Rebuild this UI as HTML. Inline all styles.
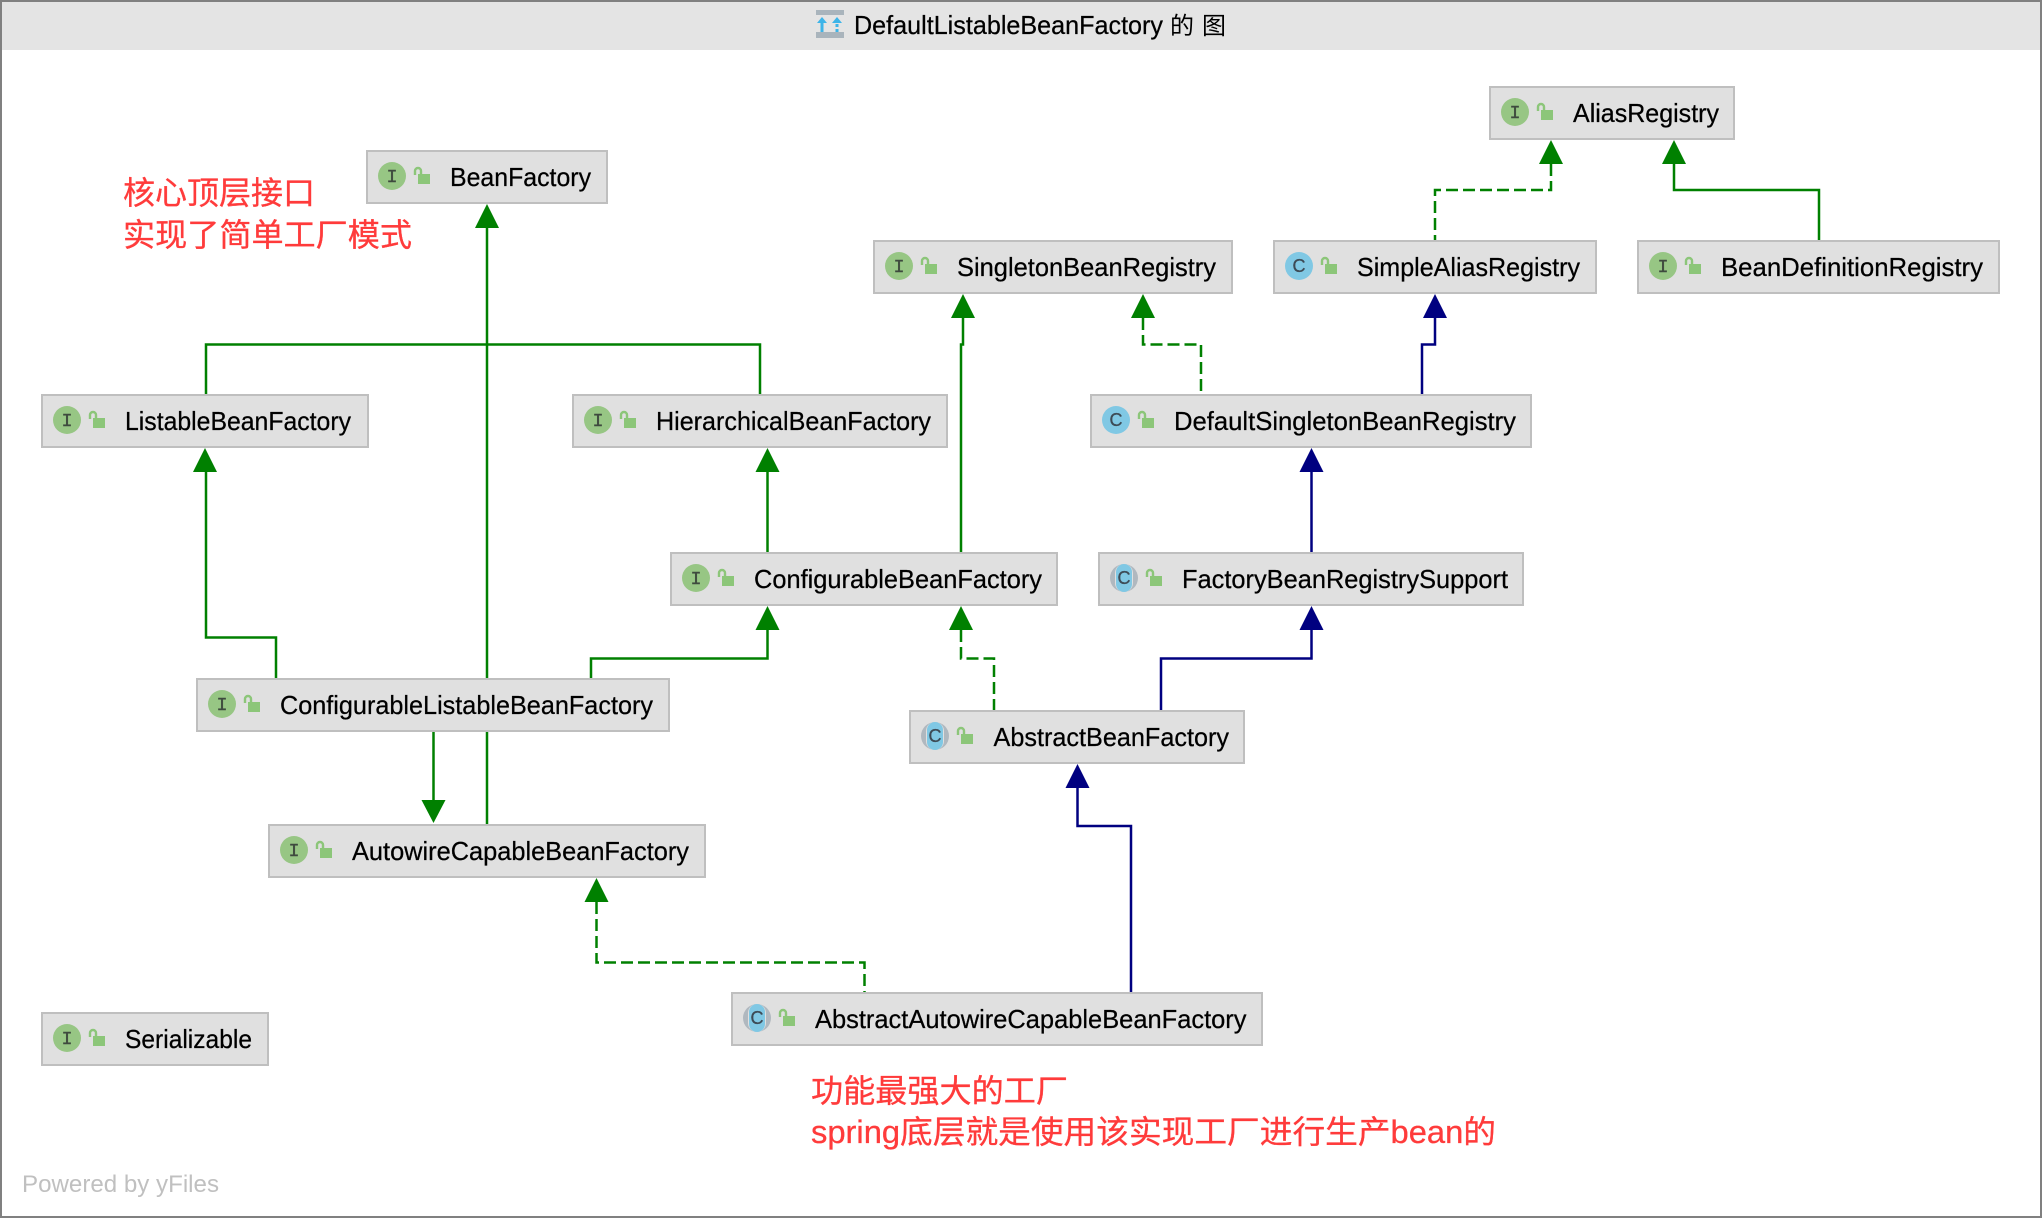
<!DOCTYPE html>
<html lang="zh">
<head>
<meta charset="utf-8">
<title>DefaultListableBeanFactory 的 图</title>
<style>
html,body{margin:0;padding:0;background:#fff;width:2042px;height:1218px;overflow:hidden}
svg{display:block}
.n{fill:#e0e0e0;stroke:#bfbfbf;stroke-width:2}
.t{font-family:"Liberation Sans",sans-serif;font-size:26px;fill:#000;stroke:#000;stroke-width:.25}
.r{font-family:"Liberation Sans","Noto Sans CJK SC",sans-serif;font-size:32px;fill:#ff3b3b;stroke:#ff3b3b;stroke-width:.3}
.e{fill:none;stroke-width:2.5}
.g{stroke:#008000}
.b{stroke:#000080}
.d{stroke-dasharray:12 5}
.ag{fill:#008000}
.ab{fill:#000080}
.ii{font-family:"Liberation Mono",monospace;font-size:18px;fill:#3e4a3e;stroke:#3e4a3e;stroke-width:.4;text-anchor:middle}
.ci{font-family:"Liberation Sans",sans-serif;font-size:18px;fill:#3d4a55;stroke:#3d4a55;stroke-width:.3;text-anchor:middle}
</style>
</head>
<body>
<svg width="2042" height="1218" viewBox="0 0 2042 1218" xmlns="http://www.w3.org/2000/svg">
<defs>
  <g id="lk">
    <rect x="52" y="24" width="12" height="10" fill="#8cc679"/>
    <path d="M49 25V21a3 3 0 0 1 6 0v3" fill="none" stroke="#8cc679" stroke-width="2.4"/>
  </g>
  <g id="ic"><circle cx="26" cy="26" r="14" fill="#97c684"/></g>
  <g id="cc"><circle cx="26" cy="26" r="14" fill="#80c8e4"/></g>
  <g id="ac">
    <circle cx="26" cy="26" r="14" fill="#b0b8bf"/>
    <rect x="17" y="12" width="18" height="28" rx="9" fill="#e0e0e0"/>
    <rect x="18" y="12" width="16" height="28" rx="8" fill="#80c8e4"/>
  </g>
</defs>

<rect x="0" y="0" width="2042" height="1218" fill="#fff"/>
<rect x="0" y="0" width="2042" height="50" fill="#e4e4e4"/>
<rect x="1" y="1" width="2040" height="1216" fill="none" stroke="#808080" stroke-width="2"/>

<!-- title -->
<rect x="816" y="10" width="28" height="5" fill="#a9b4bc"/>
<rect x="816" y="32" width="28" height="6" fill="#a9b4bc"/>
<path d="M822 32V21" stroke="#3db4e8" stroke-width="3" fill="none"/>
<path d="M817 23L822 17L827 23Z" fill="#3db4e8"/>
<path d="M837 32V21" stroke="#3db4e8" stroke-width="3" stroke-dasharray="3 2" fill="none"/>
<path d="M832 23L837 17L842 23Z" fill="#3db4e8"/>
<text class="t" x="854" y="34" font-size="24" textLength="309" lengthAdjust="spacingAndGlyphs">DefaultListableBeanFactory</text>
<text x="1170" y="34" style="font-family:'Liberation Sans','Noto Sans CJK SC',sans-serif;font-size:24px;fill:#000">的</text>
<text x="1202" y="34" style="font-family:'Liberation Sans','Noto Sans CJK SC',sans-serif;font-size:24px;fill:#000">图</text>

<!-- edges -->
<path class="e g" d="M487 824V228"/>
<path class="e g" d="M206 394V344.5H760V394"/>
<path class="e g" d="M963 318V344.5H961V552"/>
<path class="e g d" d="M1143 318V344.5H1201V394"/>
<path class="e b" d="M1435 318V344.5H1422V394"/>
<path class="e g d" d="M1551 164V190H1435V240"/>
<path class="e g" d="M1674 164V190H1819V240"/>
<path class="e g" d="M206 472V637.5H276V678"/>
<path class="e g" d="M591 678V658.5H767.5V630"/>
<path class="e g" d="M767.5 552V472"/>
<path class="e g d" d="M961 630V658.5H994V710"/>
<path class="e b" d="M1311.5 630V658.5H1161V710"/>
<path class="e b" d="M1311.5 552V472"/>
<path class="e b" d="M1077.5 788V826H1131V992"/>
<path class="e g" d="M433.5 732V800"/>
<path class="e g d" d="M596.5 902V962.5H864.5V992"/>

<!-- arrowheads -->
<polygon class="ag" points="487,204 475,228 499,228"/>
<polygon class="ag" points="205,448 193,472 217,472"/>
<polygon class="ag" points="767.5,448 755.5,472 779.5,472"/>
<polygon class="ag" points="963,294 951,318 975,318"/>
<polygon class="ag" points="1143,294 1131,318 1155,318"/>
<polygon class="ab" points="1435,294 1423,318 1447,318"/>
<polygon class="ag" points="1551,140 1539,164 1563,164"/>
<polygon class="ag" points="1674,140 1662,164 1686,164"/>
<polygon class="ag" points="767.5,606 755.5,630 779.5,630"/>
<polygon class="ag" points="961,606 949,630 973,630"/>
<polygon class="ab" points="1311.5,606 1299.5,630 1323.5,630"/>
<polygon class="ab" points="1311.5,448 1299.5,472 1323.5,472"/>
<polygon class="ab" points="1077.5,764 1065.5,788 1089.5,788"/>
<polygon class="ag" points="433.5,823 421.5,800 445.5,800"/>
<polygon class="ag" points="596.5,878 584.5,902 608.5,902"/>

<!-- nodes -->
<g transform="translate(366,150)"><rect class="n" x="1" y="1" width="240" height="52"/><use href="#ic"/><text class="ii" x="26" y="32">I</text><use href="#lk"/></g>
<text class="t" x="450" y="186" textLength="141" lengthAdjust="spacingAndGlyphs">BeanFactory</text>

<g transform="translate(41,394)"><rect class="n" x="1" y="1" width="326" height="52"/><use href="#ic"/><text class="ii" x="26" y="32">I</text><use href="#lk"/></g>
<text class="t" x="125" y="430" textLength="226" lengthAdjust="spacingAndGlyphs">ListableBeanFactory</text>

<g transform="translate(572,394)"><rect class="n" x="1" y="1" width="374" height="52"/><use href="#ic"/><text class="ii" x="26" y="32">I</text><use href="#lk"/></g>
<text class="t" x="656" y="430" textLength="275" lengthAdjust="spacingAndGlyphs">HierarchicalBeanFactory</text>

<g transform="translate(873,240)"><rect class="n" x="1" y="1" width="358" height="52"/><use href="#ic"/><text class="ii" x="26" y="32">I</text><use href="#lk"/></g>
<text class="t" x="957" y="276" textLength="259" lengthAdjust="spacingAndGlyphs">SingletonBeanRegistry</text>

<g transform="translate(1273,240)"><rect class="n" x="1" y="1" width="322" height="52"/><use href="#cc"/><text class="ci" x="26" y="32">C</text><use href="#lk"/></g>
<text class="t" x="1357" y="276" textLength="223" lengthAdjust="spacingAndGlyphs">SimpleAliasRegistry</text>

<g transform="translate(1637,240)"><rect class="n" x="1" y="1" width="361" height="52"/><use href="#ic"/><text class="ii" x="26" y="32">I</text><use href="#lk"/></g>
<text class="t" x="1721" y="276" textLength="262" lengthAdjust="spacingAndGlyphs">BeanDefinitionRegistry</text>

<g transform="translate(1489,86)"><rect class="n" x="1" y="1" width="244" height="52"/><use href="#ic"/><text class="ii" x="26" y="32">I</text><use href="#lk"/></g>
<text class="t" x="1573" y="122" textLength="146" lengthAdjust="spacingAndGlyphs">AliasRegistry</text>

<g transform="translate(1090,394)"><rect class="n" x="1" y="1" width="440" height="52"/><use href="#cc"/><text class="ci" x="26" y="32">C</text><use href="#lk"/></g>
<text class="t" x="1174" y="430" textLength="342" lengthAdjust="spacingAndGlyphs">DefaultSingletonBeanRegistry</text>

<g transform="translate(670,552)"><rect class="n" x="1" y="1" width="386" height="52"/><use href="#ic"/><text class="ii" x="26" y="32">I</text><use href="#lk"/></g>
<text class="t" x="754" y="588" textLength="288" lengthAdjust="spacingAndGlyphs">ConfigurableBeanFactory</text>

<g transform="translate(1098,552)"><rect class="n" x="1" y="1" width="424" height="52"/><use href="#ac"/><text class="ci" x="26" y="32">C</text><use href="#lk"/></g>
<text class="t" x="1182" y="588" textLength="326" lengthAdjust="spacingAndGlyphs">FactoryBeanRegistrySupport</text>

<g transform="translate(909,710)"><rect class="n" x="1" y="1" width="334" height="52"/><use href="#ac"/><text class="ci" x="26" y="32">C</text><use href="#lk"/></g>
<text class="t" x="993.5" y="746" textLength="235.5" lengthAdjust="spacingAndGlyphs">AbstractBeanFactory</text>

<g transform="translate(196,678)"><rect class="n" x="1" y="1" width="472" height="52"/><use href="#ic"/><text class="ii" x="26" y="32">I</text><use href="#lk"/></g>
<text class="t" x="280" y="714" textLength="373" lengthAdjust="spacingAndGlyphs">ConfigurableListableBeanFactory</text>

<g transform="translate(268,824)"><rect class="n" x="1" y="1" width="436" height="52"/><use href="#ic"/><text class="ii" x="26" y="32">I</text><use href="#lk"/></g>
<text class="t" x="352" y="860" textLength="337" lengthAdjust="spacingAndGlyphs">AutowireCapableBeanFactory</text>

<g transform="translate(41,1012)"><rect class="n" x="1" y="1" width="226" height="52"/><use href="#ic"/><text class="ii" x="26" y="32">I</text><use href="#lk"/></g>
<text class="t" x="125" y="1048" textLength="127" lengthAdjust="spacingAndGlyphs">Serializable</text>

<g transform="translate(731,992)"><rect class="n" x="1" y="1" width="530" height="52"/><use href="#ac"/><text class="ci" x="26" y="32">C</text><use href="#lk"/></g>
<text class="t" x="815" y="1028" textLength="431.5" lengthAdjust="spacingAndGlyphs">AbstractAutowireCapableBeanFactory</text>

<!-- annotations -->
<text class="r" x="123" y="204" textLength="192" lengthAdjust="spacingAndGlyphs">核心顶层接口</text>
<text class="r" x="123" y="246" textLength="289" lengthAdjust="spacingAndGlyphs">实现了简单工厂模式</text>
<text class="r" x="811" y="1102" textLength="257" lengthAdjust="spacingAndGlyphs">功能最强大的工厂</text>
<text class="r" x="811" y="1143" textLength="685" lengthAdjust="spacingAndGlyphs">spring底层就是使用该实现工厂进行生产bean的</text>

<text x="22" y="1192" textLength="197" lengthAdjust="spacingAndGlyphs" style="font-family:'Liberation Sans',sans-serif;font-size:24px;fill:#c0c0c0">Powered by yFiles</text>
</svg>
</body>
</html>
